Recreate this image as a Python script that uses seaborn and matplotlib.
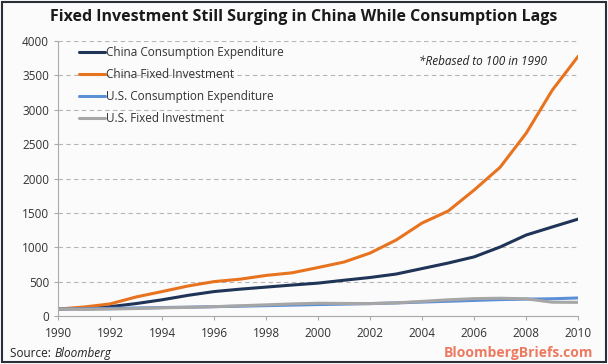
import pandas as pd
import numpy as np
import matplotlib.pyplot as plt
import seaborn as sns

# Data (rebased to 100 in 1990)
years = list(range(1990, 2011))
china_consumption = [100, 115, 135, 180, 235, 300, 355, 390, 420, 450, 478,
                     520, 560, 610, 690, 770, 860, 1004, 1178, 1295, 1410]
china_fixed = [100, 130, 175, 276, 355, 436, 500, 535, 590, 628, 705,
               785, 916, 1105, 1353, 1527, 1833, 2165, 2660, 3285, 3780]
us_consumption = [100, 104, 110, 116, 122, 128, 135, 142, 150, 158, 166,
                  172, 180, 190, 202, 214, 226, 238, 245, 250, 262]
us_fixed = [100, 95, 100, 108, 118, 125, 135, 148, 162, 175, 185,
            182, 180, 190, 212, 235, 252, 258, 250, 200, 198]
series_names = ["China Consumption Expenditure", "China Fixed Investment",
                "U.S. Consumption Expenditure", "U.S. Fixed Investment"]
colors = ["#1f3457", "#e8731f", "#5b8fd6", "#a6a6a6"]
xticks = list(range(1990, 2011, 2))
yticks = list(range(0, 4001, 500))


def main():
    df = pd.DataFrame({
        "year": years * 4,
        "value": china_consumption + china_fixed + us_consumption + us_fixed,
        "series": sum([[n] * len(years) for n in series_names], []),
    })

    sns.set_style("white")
    plt.rcParams['font.family'] = ['Open Sans', 'DejaVu Sans']

    fig = plt.figure(figsize=(6.08, 3.64), dpi=100, facecolor="#fbfbfb")
    ax = fig.add_axes([0.0954, 0.132, 0.8556, 0.755])
    ax.set_facecolor("#fbfbfb")

    sns.lineplot(data=df, x="year", y="value", hue="series", hue_order=series_names,
                 palette=colors, linewidth=2.2, ax=ax)

    ax.set_xlim(1990, 2010)
    ax.set_ylim(0, 4000)
    ax.set_xticks(xticks)
    ax.set_yticks(yticks)
    ax.tick_params(axis="both", labelsize=8.5, colors="#333333", length=3,
                   direction="out", left=True, bottom=True)
    ax.tick_params(axis="both", color="#aaaaaa")
    ax.tick_params(axis="x", pad=5)
    ax.set_xlabel("")
    ax.set_ylabel("")
    ax.yaxis.grid(True, linestyle=(0, (4, 3)), color="#b5b5b5", linewidth=0.8)
    for side in ["top", "right"]:
        ax.spines[side].set_visible(False)
    for side in ["left", "bottom"]:
        ax.spines[side].set_color("#aaaaaa")

    leg = ax.legend(loc="upper left", bbox_to_anchor=(0.02, 1.02), frameon=False,
                    fontsize=8.5, handlelength=2.2, handletextpad=0.1,
                    labelspacing=0.75)
    for t in leg.get_texts():
        t.set_color("#333333")

    ax.text(0.94, 0.925, "*Rebased to 100 in 1990", transform=ax.transAxes,
            ha="right", va="center", style="italic", fontsize=8.5, color="#222222")

    fig.text(0.5, 0.953, "Fixed Investment Still Surging in China While Consumption Lags",
             ha="center", va="center", fontsize=11.5, fontweight="bold", color="#1a1a1a")
    fig.text(0.016, 0.03, "Source: ", ha="left", va="center", fontsize=8.5, color="#222222")
    fig.text(0.09, 0.03, "Bloomberg", ha="left", va="center", fontsize=8.5,
             style="italic", color="#222222")
    fig.text(0.975, 0.03, "BloombergBriefs.com", ha="right", va="center", fontsize=10,
             fontweight="bold", color="#ec7a60")

    border = plt.Rectangle((0.004, 0.005), 0.992, 0.99, transform=fig.transFigure,
                           fill=False, edgecolor="#2a2f3a", linewidth=1.5)
    fig.patches.append(border)

    fig.savefig("out.png", dpi=100, facecolor=fig.get_facecolor())


if __name__ == "__main__":
    main()
